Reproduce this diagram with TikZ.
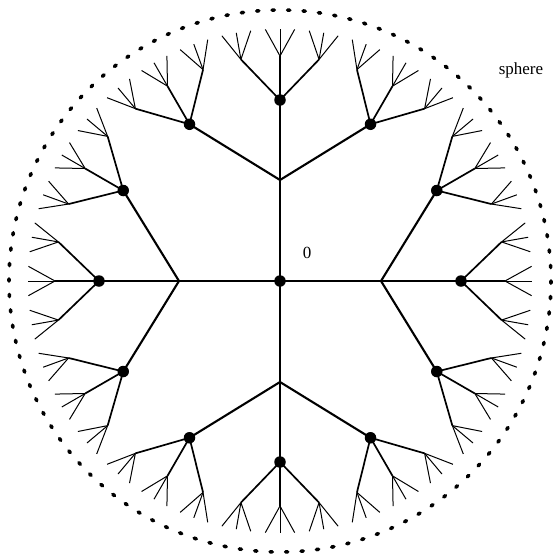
\documentclass[tikz,border=0pt]{standalone}
\usepackage{fontspec}
\setmainfont{Liberation Serif}
\begin{document}
\begin{tikzpicture}[x=1pt,y=-1pt,
  e1/.style={line width=2.1pt},
  e3/.style={line width=1.7pt},
  e4/.style={line width=1pt},
  vdot/.style={circle,fill=black,inner sep=0pt,minimum size=11.5pt},
  spherestyle/.style={line width=3.6pt,dash pattern=on 2.2pt off 13.28pt,line cap=round},
  lbl/.style={font=\fontsize{17}{20}\selectfont,inner sep=0pt}]
\useasboundingbox (0,0) rectangle (553,555);
\coordinate (O) at (280,281);
\draw[spherestyle] (O) circle (271);
\foreach \i in {0,...,3}{
  \coordinate (a\i) at ([shift={({90*\i}:101)}]O);
  \draw[e1] (O) -- (a\i);
  \foreach \j in {1,2,3}{
    \coordinate (b\i\j) at ([shift={({90*\i+30*\j-60}:181)}]O);
    \draw[e1] (a\i) -- (b\i\j);
    \foreach \k in {1,2,3}{
      \coordinate (c\i\j\k) at ([shift={({90*\i+30*\j-60+10*\k-20}:225)}]O);
      \draw[e3] (b\i\j) -- (c\i\j\k);
      \foreach \m in {1,2,3}{
        \coordinate (d\i\j\k\m) at ([shift={({90*\i+30*\j-60+10*\k-20+10/3*\m-20/3}:252)}]O);
        \draw[e4] (c\i\j\k) -- (d\i\j\k\m);
      }
    }
  }
}
\node[vdot] (o) at (O) {};
\foreach \i in {0,...,3}{
  \foreach \j in {1,2,3}{
    \node[vdot] (v\i\j) at (b\i\j) {};
  }
}
\node[lbl] (zero) at (307,253) {0};
\node[lbl] (sph) at (521,70) {sphere};
\end{tikzpicture}
\end{document}
